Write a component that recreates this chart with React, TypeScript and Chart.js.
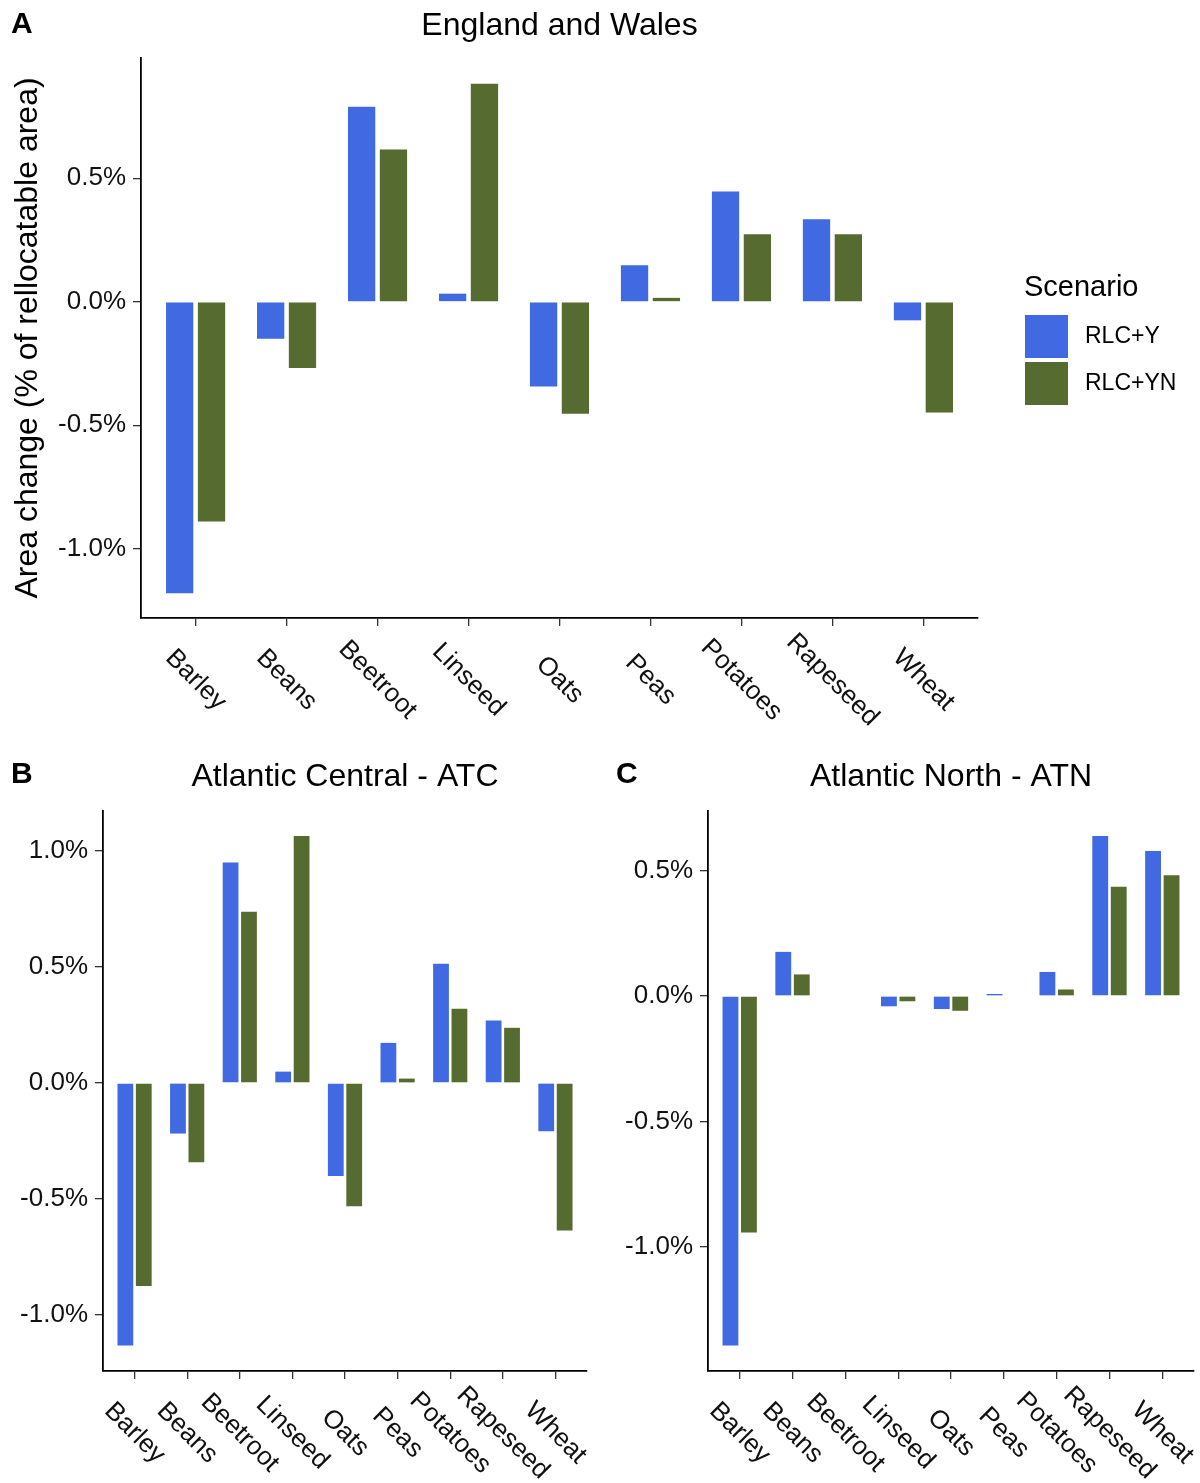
import React, { useEffect, useRef } from 'react';
import { Chart, registerables } from 'chart.js';

Chart.register(...registerables);

// ---------- data ----------
const crops = ['Barley', 'Beans', 'Beetroot', 'Linseed', 'Oats', 'Peas', 'Potatoes', 'Rapeseed', 'Wheat'];
const scenarios = ['RLC+Y', 'RLC+YN'];
const scenarioColors = ['#4169E1', '#556B2F'];

// England and Wales (A)
const ewRLCY = [-1.18, -0.15, 0.79, 0.033, -0.343, 0.148, 0.447, 0.334, -0.075];
const ewRLCYN = [-0.889, -0.268, 0.617, 0.883, -0.453, 0.016, 0.274, 0.274, -0.448];
// Atlantic Central - ATC (B)
const atcRLCY = [-1.132, -0.218, 0.951, 0.049, -0.401, 0.173, 0.514, 0.269, -0.208];
const atcRLCYN = [-0.875, -0.342, 0.739, 1.065, -0.532, 0.019, 0.32, 0.238, -0.636];
// Atlantic North - ATN (C)
const atnRLCY = [-1.394, 0.176, 0, -0.041, -0.052, 0.008, 0.096, 0.638, 0.578];
const atnRLCYN = [-0.943, 0.086, 0, -0.021, -0.059, 0, 0.026, 0.436, 0.482];

const yTicksA = [-1.0, -0.5, 0.0, 0.5];
const yTicksB = [-1.0, -0.5, 0.0, 0.5, 1.0];
const yTicksC = [-1.0, -0.5, 0.0, 0.5];

const titleA = 'England and Wales';
const titleB = 'Atlantic Central - ATC';
const titleC = 'Atlantic North - ATN';
const yAxisTitle = 'Area change (% of rellocatable area)';
const legendTitle = 'Scenario';

const FONT = '"Liberation Sans", Arial, Helvetica, sans-serif';

type PanelCfg = {
  letter: string;
  title: string;
  series: number[][];
  yTicks: number[];
  yMin: number;
  yMax: number;
  left: number;
  top: number;
  width: number;
  height: number;
  yAxisW: number;
  padRight: number;
  padTop: number;
  xAxisH: number;
  titleY: number;
  letterX: number;
  letterY: number;
  showYTitle: boolean;
  showLegend: boolean;
};

function Panel({ cfg }: { cfg: PanelCfg }) {
  const ref = useRef<HTMLCanvasElement>(null);
  useEffect(() => {
    const canvas = ref.current;
    if (!canvas) return;

    const decor = {
      id: 'decor',
      afterDraw(chart: any) {
        const ctx = chart.ctx as CanvasRenderingContext2D;
        const area = chart.chartArea;
        const xs = chart.scales.x;
        ctx.save();
        ctx.fillStyle = '#000';
        // title
        ctx.font = `32px ${FONT}`;
        ctx.textAlign = 'center';
        ctx.textBaseline = 'middle';
        ctx.fillText(cfg.title, (area.left + area.right) / 2, cfg.titleY);
        // panel letter
        ctx.font = `bold 30px ${FONT}`;
        ctx.textAlign = 'left';
        ctx.fillText(cfg.letter, cfg.letterX, cfg.letterY);
        // rotated x labels
        ctx.font = `26px ${FONT}`;
        ctx.fillStyle = '#111';
        crops.forEach((c, i) => {
          const px = xs.getPixelForValue(i);
          ctx.save();
          ctx.translate(px, area.bottom + 62);
          ctx.rotate(Math.PI / 4);
          ctx.textAlign = 'center';
          ctx.textBaseline = 'middle';
          ctx.fillText(c, 0, 0);
          ctx.restore();
        });
        // y axis title
        if (cfg.showYTitle) {
          ctx.save();
          ctx.fillStyle = '#000';
          ctx.font = `32px ${FONT}`;
          ctx.translate(28, (area.top + area.bottom) / 2);
          ctx.rotate(-Math.PI / 2);
          ctx.textAlign = 'center';
          ctx.textBaseline = 'middle';
          ctx.fillText(yAxisTitle, 0, 0);
          ctx.restore();
        }
        // legend
        if (cfg.showLegend) {
          ctx.fillStyle = '#000';
          ctx.font = `29px ${FONT}`;
          ctx.textAlign = 'left';
          ctx.textBaseline = 'alphabetic';
          ctx.fillText(legendTitle, 1024, 296);
          scenarios.forEach((s, i) => {
            const ky = 315 + i * 47;
            ctx.fillStyle = scenarioColors[i];
            ctx.fillRect(1025, ky, 43, 43);
            ctx.fillStyle = '#000';
            ctx.font = `23px ${FONT}`;
            ctx.textBaseline = 'middle';
            ctx.fillText(s, 1085, ky + 22);
          });
        }
        ctx.restore();
      },
    };

    const gridOpts = {
      drawOnChartArea: false,
      drawTicks: true,
      tickLength: 8,
      color: '#333',
      lineWidth: 1.3,
      offset: false,
    };
    const borderOpts = { display: true, color: '#000', width: 1.8 };

    const chart = new Chart(canvas, {
      type: 'bar',
      data: {
        datasets: scenarios.map((s, k) => ({
          label: s,
          data: cfg.series[k].map((v, i) => ({ x: i, y: v })),
          backgroundColor: scenarioColors[k],
          borderWidth: 0,
          categoryPercentage: 0.7,
          barPercentage: 0.857,
        })),
      },
      options: {
        animation: false,
        responsive: false,
        devicePixelRatio: 1,
        layout: { padding: { left: 0, right: cfg.padRight, top: cfg.padTop, bottom: 0 } },
        plugins: {
          legend: { display: false },
          tooltip: { enabled: false },
          title: { display: false },
        },
        scales: {
          x: {
            type: 'linear',
            min: -0.6,
            max: crops.length - 1 + 0.6,
            offset: false,
            afterBuildTicks: (ax: any) => {
              ax.ticks = crops.map((_, i) => ({ value: i }));
            },
            afterFit: (ax: any) => {
              ax.height = cfg.xAxisH;
            },
            ticks: { display: false },
            grid: gridOpts,
            border: borderOpts,
          },
          y: {
            type: 'linear',
            min: cfg.yMin,
            max: cfg.yMax,
            afterBuildTicks: (ax: any) => {
              ax.ticks = cfg.yTicks.map((v) => ({ value: v }));
            },
            afterFit: (ax: any) => {
              ax.width = cfg.yAxisW;
            },
            ticks: {
              callback: (v: any) => `${Number(v).toFixed(1)}%`,
              font: { size: 26, family: FONT },
              color: '#111',
              padding: 7,
            },
            grid: gridOpts,
            border: borderOpts,
          },
        },
      } as any,
      plugins: [decor],
    });
    return () => chart.destroy();
  }, [cfg]);

  return (
    <canvas
      ref={ref}
      width={cfg.width}
      height={cfg.height}
      style={{ position: 'absolute', left: cfg.left, top: cfg.top, width: cfg.width, height: cfg.height }}
    />
  );
}

const panelA: PanelCfg = {
  letter: 'A', title: titleA, series: [ewRLCY, ewRLCYN], yTicks: yTicksA,
  yMin: -1.28, yMax: 0.987,
  left: 0, top: 0, width: 1200, height: 740,
  yAxisW: 141, padRight: 222, padTop: 58, xAxisH: 122,
  titleY: 26, letterX: 11, letterY: 25, showYTitle: true, showLegend: true,
};
const panelB: PanelCfg = {
  letter: 'B', title: titleB, series: [atcRLCY, atcRLCYN], yTicks: yTicksB,
  yMin: -1.242, yMax: 1.173,
  left: 0, top: 740, width: 600, height: 743,
  yAxisW: 103, padRight: 13, padTop: 71, xAxisH: 112,
  titleY: 37, letterX: 11, letterY: 35, showYTitle: false, showLegend: false,
};
const panelC: PanelCfg = {
  letter: 'C', title: titleC, series: [atnRLCY, atnRLCYN], yTicks: yTicksC,
  yMin: -1.496, yMax: 0.738,
  left: 600, top: 740, width: 600, height: 743,
  yAxisW: 108, padRight: 6, padTop: 71, xAxisH: 112,
  titleY: 37, letterX: 16, letterY: 35, showYTitle: false, showLegend: false,
};

export default function App() {
  return (
    <div style={{ position: 'absolute', left: 0, top: 0, width: 1200, height: 1483, background: '#fff' }}>
      <Panel cfg={panelA} />
      <Panel cfg={panelB} />
      <Panel cfg={panelC} />
    </div>
  );
}
